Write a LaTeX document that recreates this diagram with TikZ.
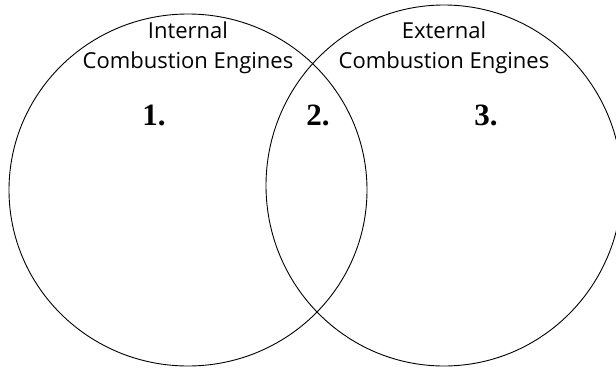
\documentclass[tikz,border=0pt]{standalone}
\usepackage{fontspec}
\setmainfont{Liberation Serif}
\newfontfamily\labelfont{Open Sans}
\usetikzlibrary{positioning}
\tikzset{
  setline/.style={draw, line width=0.9pt},
  settitle/.style={font=\labelfont\fontsize{22}{30}\selectfont, align=center, anchor=base, inner sep=0pt},
  setnum/.style={font=\fontsize{31}{31}\selectfont\bfseries, anchor=base, inner sep=0pt}
}

\begin{document}
\begin{tikzpicture}[x=1pt, y=-1pt]
      \useasboundingbox (0,0) rectangle (616,367);
      % the two sets
      \draw[setline] (188,190) ellipse [x radius=179, y radius=176];
      \draw[setline] (444,185.5) ellipse [x radius=178, y radius=180.5];
      % set names
      \node[settitle] (intl) at (188,68) {Internal\\Combustion Engines};
      \node[settitle] (extl) at (444,68) {External\\Combustion Engines};
      % regions
      \node[setnum] (one) at (154,125) {1.};
      \node[setnum] (two) at (318,125) {2.};
      \node[setnum] (three) at (486,125) {3.};
    \end{tikzpicture}
\end{document}
